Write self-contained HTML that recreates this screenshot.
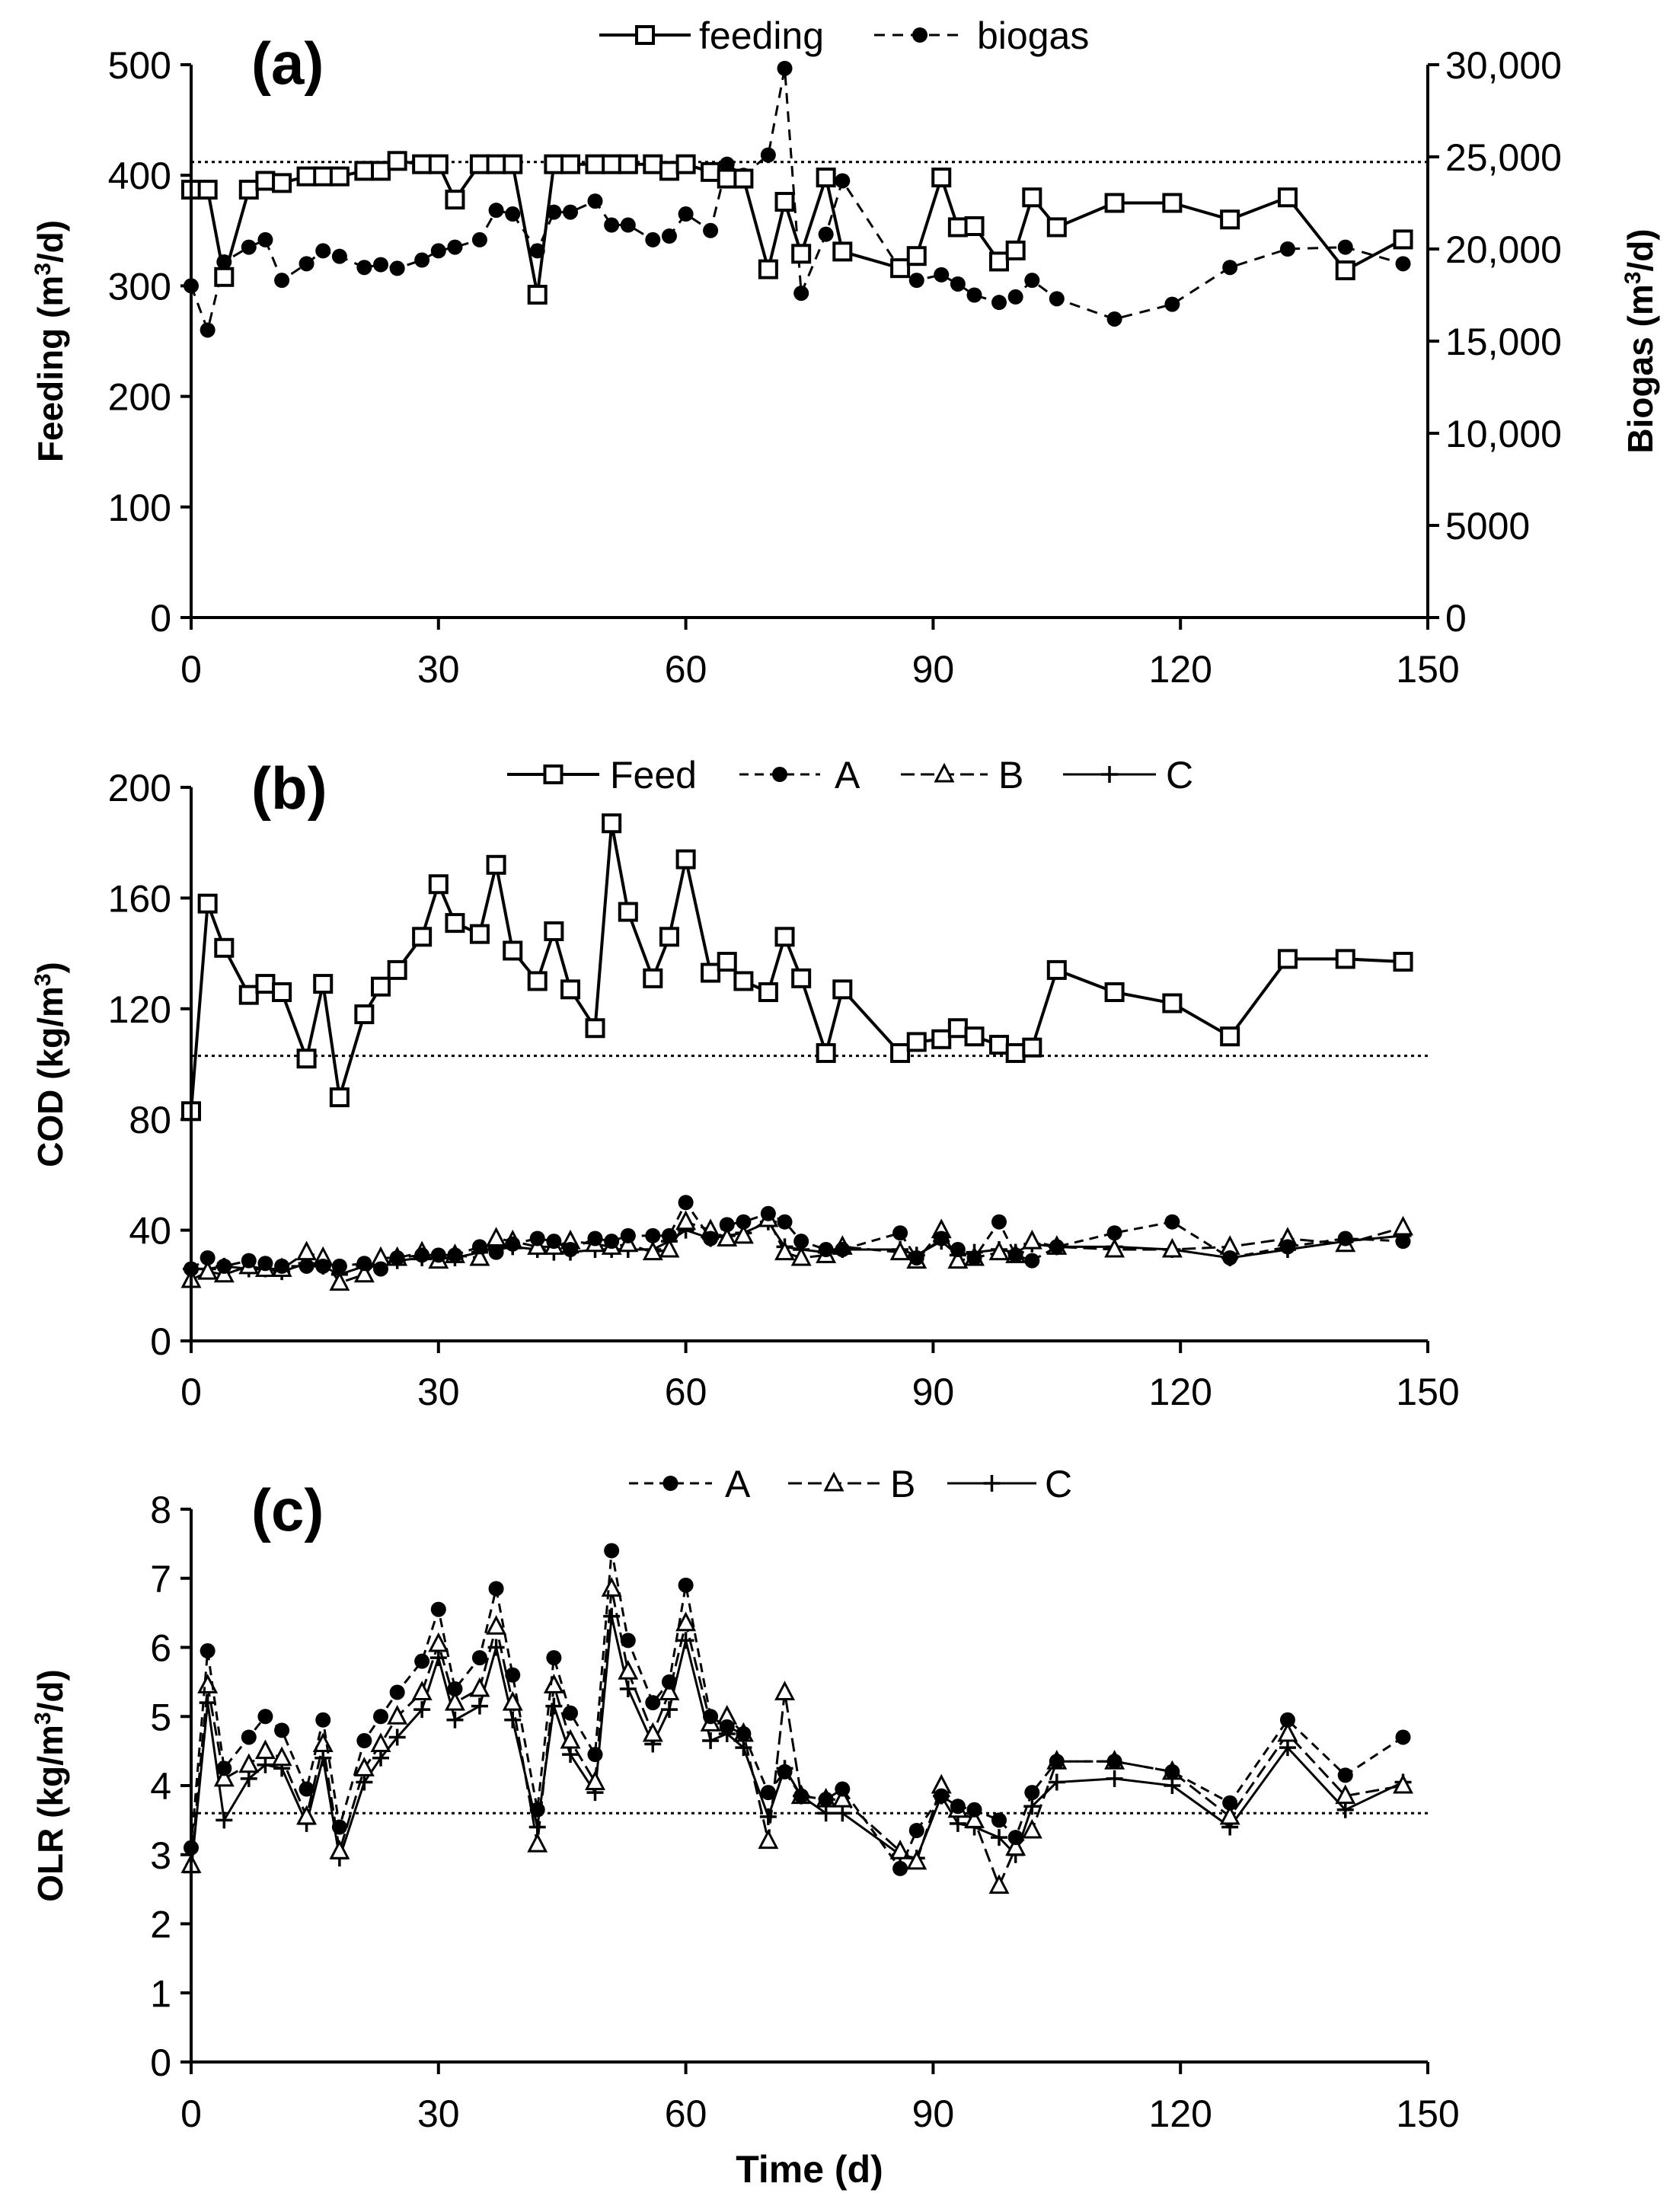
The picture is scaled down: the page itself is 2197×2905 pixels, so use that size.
<!DOCTYPE html>
<html><head><meta charset="utf-8"><style>
html,body{margin:0;padding:0;background:#fff}
svg{display:block}
text{font-family:"Liberation Sans",Arial,sans-serif;fill:#000}
</style></head><body>
<svg id="chart" xmlns="http://www.w3.org/2000/svg" width="2197" height="2905" viewBox="0 0 2197 2905"></svg>
<script>
const days = [0,2,4,7,9,11,14,16,18,21,23,25,28,30,32,35,37,39,42,44,46,49,51,53,56,58,60,63,65,67,70,72,74,77,79,86,88,91,93,95,98,100,102,105,112,119,126,133,140,147];
const feeding = [387,387,308,387,395,393,399,399,399,404,404,413,410,410,378,410,410,410,292,410,410,410,410,410,410,404,410,403,397,397,315,376,329,398,331,316,327,398,353,354,322,332,380,353,375,375,360,380,314,342];
const biogas = [18000,15600,19300,20100,20500,18300,19200,19900,19600,19000,19150,18950,19400,19900,20100,20500,22100,21900,19900,22000,22000,22600,21300,21300,20500,20700,21900,21000,24600,24000,25100,29800,17600,20800,23700,18900,18300,18600,18100,17500,17100,17400,18300,17300,16200,17000,19000,20000,20100,19200];
const codFeed = [83,158,142,125,129,126,102,129,88,118,128,134,146,165,151,147,172,141,130,148,127,113,187,155,131,146,174,133,137,130,126,146,131,104,127,104,108,109,113,110,107,104,106,134,126,122,110,138,138,137];
const codA = [26,30,27,29,28,27,27,27,27,28,26,30,31,31,31,34,32,35,37,36,33,37,36,38,38,38,50,37,42,43,46,43,36,33,33,39,30,37,33,30,43,31,29,34,39,43,30,34,37,36];
const codB = [22,25,24,27,26,26,32,30,21,24,30,30,32,29,31,30,37,36,34,34,36,35,34,35,32,33,43,40,37,38,44,32,30,31,34,32,29,40,29,30,32,31,36,34,33,33,34,37,35,41];
const codC = [26,26,27,26,26,25,28,27,24,27,28,29,30,30,30,32,34,34,33,32,32,33,33,33,33,36,40,37,38,39,43,34,33,32,33,33,31,36,31,32,33,32,35,34,34,33,30,33,36,38];
const olrA = [3.1,5.95,4.25,4.7,5.0,4.8,3.95,4.95,3.4,4.65,5.0,5.35,5.8,6.55,5.4,5.85,6.85,5.6,3.65,5.85,5.05,4.45,7.4,6.1,5.2,5.5,6.9,5.0,4.85,4.75,3.9,4.2,3.85,3.8,3.95,2.8,3.35,3.85,3.7,3.65,3.5,3.25,3.9,4.35,4.35,4.2,3.75,4.95,4.15,4.7];
const olrB = [2.85,5.45,4.1,4.3,4.5,4.4,3.55,4.6,3.05,4.25,4.6,5.0,5.35,6.05,5.2,5.4,6.3,5.2,3.15,5.45,4.65,4.05,6.85,5.65,4.75,5.35,6.35,4.9,5.0,4.75,3.2,5.35,3.85,3.8,3.8,3.05,2.9,4.0,3.65,3.5,2.55,3.1,3.35,4.35,4.35,4.2,3.55,4.75,3.85,4.0];
const olrC = [2.75,5.2,3.5,4.1,4.3,4.25,3.45,4.4,2.95,4.05,4.4,4.7,5.1,5.85,4.95,5.15,6.0,4.95,3.4,5.15,4.45,3.9,6.45,5.4,4.6,5.1,6.1,4.65,4.75,4.55,3.55,4.25,3.85,3.6,3.6,3.0,2.95,3.85,3.45,3.4,3.25,3.0,3.7,4.05,4.1,4.0,3.4,4.55,3.65,4.05];
const xTicks = [0,30,60,90,120,150];
const feedTicks = [0,100,200,300,400,500];
const biogasTicks = [0,5000,10000,15000,20000,25000,30000];
const biogasTickLabels = ["0","5000","10,000","15,000","20,000","25,000","30,000"];
const codTicks = [0,40,80,120,160,200];
const olrTicks = [0,1,2,3,4,5,6,7,8];
const refFeed = 412, refCod = 103, refOlr = 3.6;

const NS = "http://www.w3.org/2000/svg";
const svg = document.getElementById('chart');
function mk(tag, attrs, parent, txt){
  const e = document.createElementNS(NS, tag);
  for (const k in attrs) e.setAttribute(k, attrs[k]);
  if (txt !== undefined) e.textContent = txt;
  (parent||svg).appendChild(e);
  return e;
}
const X0 = 251, X1 = 1875;
const xs = d => X0 + (d/150)*(X1-X0);
function lin(v0,v1,p0,p1){ return v => p0 + (v-v0)/(v1-v0)*(p1-p0); }

function marker(g, type, x, y, name){
  let e;
  if (type==='sq') e = mk('rect',{x:x-11,y:y-11,width:22,height:22,fill:'#fff',stroke:'#000','stroke-width':4},g);
  else if (type==='dot') e = mk('circle',{cx:x,cy:y,r:10,fill:'#000'},g);
  else if (type==='tri') e = mk('polygon',{points:`${x},${y-12} ${x-11},${y+9} ${x+11},${y+9}`,fill:'#fff',stroke:'#000','stroke-width':3},g);
  else { e = mk('path',{d:`M${x-11},${y}H${x+11}M${x},${y-11}V${y+11}`,stroke:'#000','stroke-width':3.5,fill:'none'},g); }
  
  
}
function series(vals, ys, type, dash, width, name){
  const g = mk('g',{});
  
  
  const pts = days.map((d,i)=>xs(d).toFixed(1)+','+ys(vals[i]).toFixed(1)).join(' ');
  const pl = mk('polyline',{points:pts,fill:'none',stroke:'#000','stroke-width':width,'stroke-dasharray':dash||'none','stroke-linejoin':'round'},g);
  
  
  days.forEach((d,i)=>marker(g,type,xs(d),ys(vals[i]),name+'-point'));
}
function xAxis(y0, labY, prefix){
  const g = mk('g',{});
  
  
  mk('line',{x1:X0-14,y1:y0,x2:X1,y2:y0,stroke:'#000','stroke-width':4},g);
  xTicks.forEach(t=>{
    mk('line',{x1:xs(t),y1:y0,x2:xs(t),y2:y0+16,stroke:'#000','stroke-width':4},g);
    const tx = mk('text',{x:xs(t),y:labY,'font-size':50,'text-anchor':'middle'},g,String(t));
    
    
  });
}
function yAxis(ys, ticks, labels, prefix, yTop, yBot){
  const g = mk('g',{});
  
  
  mk('line',{x1:X0,y1:yTop,x2:X0,y2:yBot+16,stroke:'#000','stroke-width':4},g);
  ticks.forEach((t,i)=>{
    mk('line',{x1:X0-14,y1:ys(t),x2:X0,y2:ys(t),stroke:'#000','stroke-width':4},g);
    const tx = mk('text',{x:X0-26,y:ys(t)+18,'font-size':50,'text-anchor':'end'},g,labels[i]);
    
    
  });
}
function vtitle(x, y, main, sup, tail, name){
  const t = mk('text',{x:x,y:y,'font-size':46,'font-weight':'bold','text-anchor':'middle',transform:`rotate(-90 ${x} ${y})`});
  
  
  t.appendChild(document.createTextNode(main));
  if (sup){ const s = mk('tspan',{'font-size':30,dy:-16},t,sup); mk('tspan',{dy:16},t,tail); }
}
function refLine(y, name){
  const l = mk('line',{x1:X0,y1:y,x2:X1,y2:y,stroke:'#000','stroke-width':3,'stroke-dasharray':'4,5'});
  
  
}
function panelLabel(x,y,txt,name){
  const t = mk('text',{x:x,y:y,'font-size':78,'font-weight':'bold'},svg,txt);
  
  
}
function legend(y, items, prefix){
  const g = mk('g',{});
  
  
  items.forEach(it=>{
    const e = mk('g',{},g);
    
    
    mk('line',{x1:it.l1,y1:y,x2:it.l2,y2:y,stroke:'#000','stroke-width':it.w,'stroke-dasharray':it.dash||'none'},e);
    marker(e,it.type,(it.l1+it.l2)/2,y,prefix+'-legend-marker');
    mk('text',{x:it.tx,y:y+18,'font-size':50},e,it.label);
  });
}

// Panel (a)
const yFeed = lin(0,500,811,85);
const yBio = lin(0,30000,811,85);
refLine(yFeed(refFeed),'a-reference-line');
series(biogas, yBio, 'dot', '14,10', 3, 'biogas');
series(feeding, yFeed, 'sq', null, 4, 'feeding');
yAxis(yFeed, feedTicks, feedTicks.map(String), 'a', 85, 811);
(function(){
  const g = mk('g',{});
  
  
  mk('line',{x1:X1,y1:85,x2:X1,y2:811+16,stroke:'#000','stroke-width':4},g);
  biogasTicks.forEach((t,i)=>{
    mk('line',{x1:X1,y1:yBio(t),x2:X1+15,y2:yBio(t),stroke:'#000','stroke-width':4},g);
    const tx = mk('text',{x:1898,y:yBio(t)+18,'font-size':50},g,biogasTickLabels[i]);
    
    
  });
})();
xAxis(811, 896, 'a');
vtitle(82, 448, 'Feeding (m', '3', '/d)', 'a-y-axis-title');
vtitle(2170, 448, 'Biogas (m', '3', '/d)', 'a-right-axis-title');
panelLabel(330, 110, '(a)', 'a-panel-label');
legend(46, [
  {l1:787,l2:907,type:'sq',w:4,tx:918,label:'feeding'},
  {l1:1148,l2:1268,type:'dot',w:3,dash:'14,10',tx:1283,label:'biogas'}
], 'a');

// Panel (b)
const yCod = lin(0,200,1761,1034);
refLine(yCod(refCod),'b-reference-line');
series(codC, yCod, 'plus', null, 3, 'cod-c');
series(codB, yCod, 'tri', '18,8', 3, 'cod-b');
series(codA, yCod, 'dot', '12,8', 3, 'cod-a');
series(codFeed, yCod, 'sq', null, 4, 'cod-feed');
yAxis(yCod, codTicks, codTicks.map(String), 'b', 1034, 1761);
xAxis(1761, 1845, 'b');
vtitle(82, 1398, 'COD (kg/m', '3', ')', 'b-y-axis-title');
panelLabel(330, 1062, '(b)', 'b-panel-label');
legend(1017, [
  {l1:666,l2:787,type:'sq',w:4,tx:801,label:'Feed'},
  {l1:971,l2:1077,type:'dot',w:3,dash:'12,8',tx:1096,label:'A'},
  {l1:1183,l2:1297,type:'tri',w:3,dash:'18,8',tx:1311,label:'B'},
  {l1:1396,l2:1518,type:'plus',w:3,tx:1531,label:'C'}
], 'b');

// Panel (c)
const yOlr = lin(0,8,2708,1982);
refLine(yOlr(refOlr),'c-reference-line');
series(olrC, yOlr, 'plus', null, 3, 'olr-c');
series(olrB, yOlr, 'tri', '18,8', 3, 'olr-b');
series(olrA, yOlr, 'dot', '12,8', 3, 'olr-a');
yAxis(yOlr, olrTicks, olrTicks.map(String), 'c', 1982, 2708);
xAxis(2708, 2793, 'c');
vtitle(82, 2345, 'OLR (kg/m', '3', '/d)', 'c-y-axis-title');
panelLabel(330, 2010, '(c)', 'c-panel-label');
legend(1948, [
  {l1:826,l2:935,type:'dot',w:3,dash:'12,8',tx:952,label:'A'},
  {l1:1035,l2:1155,type:'tri',w:3,dash:'18,8',tx:1169,label:'B'},
  {l1:1244,l2:1361,type:'plus',w:3,tx:1372,label:'C'}
], 'c');
const xt = mk('text',{x:1063,y:2866,'font-size':50,'font-weight':'bold','text-anchor':'middle'},svg,'Time (d)');


</script>
</body></html>
